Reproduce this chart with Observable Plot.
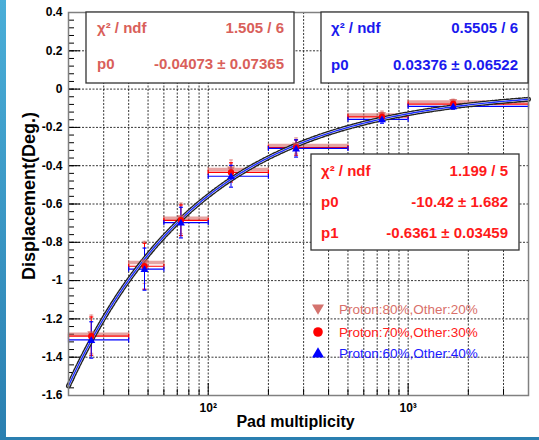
<!DOCTYPE html>
<html><head><meta charset="utf-8">
<script src="https://cdn.jsdelivr.net/npm/d3@7"></script>
<script src="https://cdn.jsdelivr.net/npm/@observablehq/plot@0.6"></script>
<style>
body{margin:0;background:#fff;}
#wrap{position:relative;width:539px;height:440px;overflow:hidden;background:#fff;}
#strip{position:absolute;left:0;top:0;width:6px;height:440px;background:linear-gradient(#4aaed8,#2a7fb0);}
#bline{position:absolute;left:0;top:437px;width:539px;height:3px;background:#2a7fb0;}
#wrap svg{position:absolute;left:0;top:0;}
</style></head><body><div id="wrap"></div>
<script>
// ---- data ----
const binLo = [20, 40, 60, 100, 200, 500, 1000];
const binHi = [40, 60, 100, 200, 500, 1000, 4000];
const xMean = [26, 48, 73, 130, 275, 740, 1680];
const seriesNames = ["Proton:80%,Other:20%", "Proton:70%,Other:30%", "Proton:60%,Other:40%"];
const y80 = [-1.28, -0.905, -0.675, -0.42, -0.295, -0.135, -0.068];
const e80 = [0.10, 0.11, 0.08, 0.05, 0.04, 0.02, 0.015];
const y70 = [-1.29, -0.925, -0.685, -0.435, -0.305, -0.145, -0.078];
const e70 = [0.10, 0.12, 0.08, 0.05, 0.04, 0.02, 0.015];
const y60 = [-1.31, -0.94, -0.697, -0.455, -0.31, -0.158, -0.09];
const e60 = [0.095, 0.11, 0.08, 0.057, 0.045, 0.02, 0.015];
const fitP0 = -10.42, fitP1 = -0.6361;
const yTicks = [0.4, 0.2, 0, -0.2, -0.4, -0.6, -0.8, -1, -1.2, -1.4, -1.6];
const xGrid = [30, 40, 50, 60, 70, 80, 90, 100, 200, 300, 400, 500, 600, 700, 800, 900, 1000, 2000, 3000];
const xMajor = [100, 1000];
const xLabels = ["10²", "10³"];
const stats = [
  {color: "#d9605a", rows: [["χ² / ndf", "1.505 / 6"], ["p0", "-0.04073 ± 0.07365"]]},
  {color: "#1a1aee", rows: [["χ² / ndf", "0.5505 / 6"], ["p0", "0.03376 ± 0.06522"]]},
  {color: "#ff1a1a", rows: [["χ² / ndf", "1.199 / 5"], ["p0", "-10.42 ± 1.682"], ["p1", "-0.6361 ± 0.03459"]]}
];

// ---- layout ----
const W = 539, H = 440, mL = 68, mR = 11, mT = 12, mB = 45;
const pW = W - mL - mR, pH = H - mT - mB;
const FONT = "'Liberation Sans', Arial, sans-serif";

const colors = ["#d25a55", "#ff0000", "#0000ff"];
const ys = [y80, y70, y60], es = [e80, e70, e60];
const rows = [];
ys.forEach((yy, s) => yy.forEach((v, i) => rows.push({
  s, x: xMean[i], lo: binLo[i], hi: binHi[i], y: v, ylo: v - es[s][i], yhi: v + es[s][i]
})));

const sz = (size) => Math.sqrt(size / Math.PI);
const hCap = {draw(c, size) { const r = sz(size); c.moveTo(-r, 0); c.lineTo(r, 0); }};
const vCap = {draw(c, size) { const r = sz(size); c.moveTo(0, -r); c.lineTo(0, r); }};
const triDown = {draw(c, size) { const r = sz(size); c.moveTo(-r, -r * 0.75); c.lineTo(r, -r * 0.75); c.lineTo(0, r * 0.95); c.closePath(); }};
const triUp = {draw(c, size) { const r = sz(size); c.moveTo(-r, r * 0.75); c.lineTo(r, r * 0.75); c.lineTo(0, -r * 0.95); c.closePath(); }};
const circ = {draw(c, size) { const r = sz(size) * 0.8; c.moveTo(r, 0); c.arc(0, 0, r, 0, 2 * Math.PI); }};
const symbols = [triDown, circ, triUp];

const fitX = d3.range(0, 201).map(i => 20 * Math.pow(4000 / 20, i / 200));
const fit = fitX.map(x => ({x, y: fitP0 * Math.pow(x, fitP1)}));

const yMinor = d3.range(-1.6, 0.4001, 0.04);
const xMinor = xGrid.filter(d => !xMajor.includes(d));

const seriesMarks = [];
const widths = [3.5, 1.2, 1.2], opac = [0.55, 1, 1];
[0, 1, 2].forEach(s => {
  const d = rows.filter(r => r.s === s);
  const c = colors[s];
  seriesMarks.push(
    Plot.ruleY(d, {y: "y", x1: "lo", x2: "hi", stroke: c, strokeWidth: widths[s], strokeOpacity: opac[s]}),
    Plot.dot(d, {x: "lo", y: "y", symbol: vCap, r: 2.5, stroke: c, fill: "none", strokeWidth: 1.2, strokeOpacity: opac[s]}),
    Plot.dot(d, {x: "hi", y: "y", symbol: vCap, r: 2.5, stroke: c, fill: "none", strokeWidth: 1.2, strokeOpacity: opac[s]}),
    Plot.ruleX(d, {x: "x", y1: "ylo", y2: "yhi", stroke: c, strokeWidth: 1, strokeOpacity: opac[s]}),
    Plot.dot(d, {x: "x", y: "ylo", symbol: hCap, r: 2, stroke: c, fill: "none", strokeWidth: 1.2, strokeOpacity: opac[s]}),
    Plot.dot(d, {x: "x", y: "yhi", symbol: hCap, r: 2, stroke: c, fill: "none", strokeWidth: 1.2, strokeOpacity: opac[s]})
  );
});
const markerMarks = [0, 1, 2].map(s => Plot.dot(rows.filter(r => r.s === s), {
  x: "x", y: "y", symbol: symbols[s], r: 4, fill: colors[s], stroke: "none", fillOpacity: s === 0 ? 0.75 : 1
}));

const plot = Plot.plot({
  width: W, height: H, marginLeft: mL, marginRight: mR, marginTop: mT, marginBottom: mB,
  style: {fontFamily: FONT, background: "transparent", overflow: "visible"},
  x: {type: "log", domain: [20, 4000]},
  y: {domain: [-1.6, 0.4]},
  marks: [
    Plot.ruleY(yTicks, {stroke: "#000", strokeWidth: 0.8, strokeDasharray: "2,1.5"}),
    Plot.ruleX(xGrid, {stroke: "#000", strokeWidth: 0.8, strokeDasharray: "2,1.5"}),
    Plot.ruleY(yMinor, {insetRight: pW - 6, stroke: "#000", strokeWidth: 1}),
    Plot.ruleY(yTicks, {insetRight: pW - 12, stroke: "#000", strokeWidth: 1}),
    Plot.ruleX(xMinor, {insetTop: pH - 6, stroke: "#000", strokeWidth: 1}),
    Plot.ruleX(xMajor, {insetTop: pH - 12, stroke: "#000", strokeWidth: 1}),
    Plot.axisY({ticks: yTicks, tickSize: 0, tickPadding: 6, fontSize: 12, fontWeight: "bold", label: null,
      tickFormat: d => Math.abs(d) < 1e-9 ? "0" : String(Math.round(d * 10) / 10)}),
    Plot.axisX({ticks: xMajor, tickSize: 0, tickPadding: 8, fontSize: 12, fontWeight: "bold", label: null,
      tickFormat: (d, i) => xLabels[xMajor.indexOf(d)]}),
    Plot.text(["Pad multiplicity"], {frameAnchor: "bottom", textAnchor: "middle", dx: -3, dy: 31, fontSize: 16, fontWeight: "bold", fill: "#000"}),
    Plot.text(["Displacement(Deg.)"], {frameAnchor: "left", textAnchor: "middle", rotate: -90, dx: -39, dy: -8, fontSize: 18, fontWeight: "bold", fill: "#000"}),
    ...seriesMarks,
    Plot.line(fit, {x: "x", y: "y", stroke: "#222", strokeWidth: 5, strokeDasharray: "2,2"}),
    Plot.line(fit, {x: "x", y: "y", stroke: "#fff", strokeWidth: 2.2}),
    Plot.line(fit, {x: "x", y: "y", stroke: "#1a2cff", strokeWidth: 1.4}),
    ...markerMarks,
    Plot.frame({stroke: "#808080", strokeWidth: 1.5})
  ]
});

const wrap = document.getElementById("wrap");
wrap.appendChild(plot);
const strip = document.createElement("div"); strip.id = "strip"; wrap.appendChild(strip);
const bl = document.createElement("div"); bl.id = "bline"; wrap.appendChild(bl);

// ---- stats boxes ----
const svg = d3.select(plot);
const boxes = [
  {x: 86, y: 12, w: 208, h: 71, tx: 97, rx: 284, base: [33, 69]},
  {x: 321, y: 12, w: 207, h: 71, tx: 331, rx: 518, base: [33, 70]},
  {x: 311, y: 154, w: 208, h: 96, tx: 321, rx: 508, base: [176, 207, 238]}
];
boxes.forEach((b, k) => {
  const g = svg.append("g");
  g.append("rect").attr("x", b.x).attr("y", b.y).attr("width", b.w).attr("height", b.h)
    .attr("fill", "#fff").attr("stroke", "#333").attr("stroke-width", 1.3);
  stats[k].rows.forEach((r, j) => {
    g.append("text").attr("x", b.tx).attr("y", b.base[j]).text(r[0]).attr("text-anchor", "start")
      .attr("fill", stats[k].color).attr("font-family", FONT).attr("font-size", 15).attr("font-weight", "bold");
    g.append("text").attr("x", b.rx).attr("y", b.base[j]).text(r[1]).attr("text-anchor", "end")
      .attr("fill", stats[k].color).attr("font-family", FONT).attr("font-size", 15).attr("font-weight", "bold");
  });
});

// ---- legend ----
const legColors = ["#d9706a", "#ff2020", "#1a1aff"];
const legY = [309, 332, 353];
const lg = svg.append("g");
[0, 1, 2].forEach(s => {
  lg.append("path").attr("transform", `translate(318,${legY[s]})`)
    .attr("d", d3.symbol().type(symbols[s]).size(Math.PI * 36)())
    .attr("fill", s === 0 ? "#cc5a55" : colors[s]).attr("fill-opacity", s === 0 ? 0.85 : 1);
  lg.append("text").attr("x", 339).attr("y", legY[s] + 5).text(seriesNames[s]).attr("text-anchor", "start")
    .attr("fill", legColors[s]).attr("font-family", FONT).attr("font-size", 13.5);
});
</script></body></html>
